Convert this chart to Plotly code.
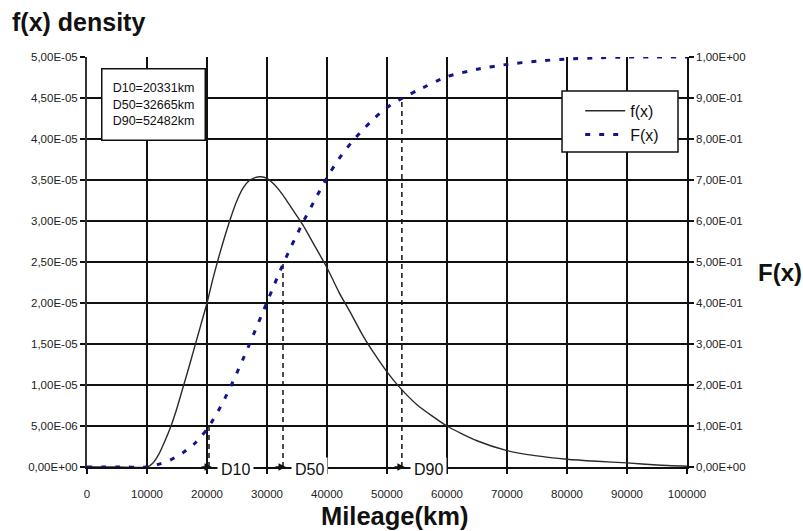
import plotly.graph_objects as go

# ---------------- data ----------------
mileage_km = [0, 5000, 10000, 11000, 12000, 13000, 14000, 15000, 16000, 17000, 18000,
              19000, 20000, 21000, 22000, 23000, 24000, 25000, 26000, 27000, 28000,
              29000, 30000, 31000, 32000, 33000, 34000, 35000, 36000, 38000, 40000,
              42000, 44000, 46000, 48000, 50000, 52000, 55000, 60000, 65000, 70000,
              75000, 80000, 85000, 90000, 95000, 100000]

density_f = [0, 0, 0, 0.05e-5, 0.16e-5, 0.32e-5, 0.50e-5, 0.72e-5, 0.97e-5, 1.22e-5, 1.48e-5,
             1.74e-5, 2.00e-5, 2.30e-5, 2.57e-5, 2.82e-5, 3.05e-5, 3.25e-5, 3.40e-5, 3.49e-5, 3.53e-5,
             3.54e-5, 3.52e-5, 3.46e-5, 3.38e-5, 3.28e-5, 3.17e-5, 3.06e-5, 2.95e-5, 2.69e-5, 2.43e-5,
             2.13e-5, 1.87e-5, 1.60e-5, 1.37e-5, 1.16e-5, 0.98e-5, 0.76e-5, 0.50e-5, 0.32e-5, 0.20e-5,
             0.135e-5, 0.095e-5, 0.07e-5, 0.05e-5, 0.025e-5, 0.01e-5]

cumulative_F = [0, 0, 0, 0.003, 0.007, 0.012, 0.018, 0.026, 0.035, 0.046, 0.058,
                0.074, 0.092, 0.115, 0.140, 0.168, 0.198, 0.230, 0.263, 0.297, 0.332,
                0.367, 0.402, 0.437, 0.472, 0.505, 0.537, 0.567, 0.597, 0.652, 0.706,
                0.752, 0.790, 0.823, 0.852, 0.877, 0.895, 0.918, 0.952, 0.970, 0.982,
                0.990, 0.995, 0.998, 1.0, 1.0, 1.0]

d_names = ["D10", "D50", "D90"]
d_values = [20331, 32665, 52482]
d_probs = [0.1, 0.5, 0.9]

x_ticks = [0, 10000, 20000, 30000, 40000, 50000, 60000, 70000, 80000, 90000, 100000]
x_ticklabels = [str(v) for v in x_ticks]
left_ticks = [0, 5e-6, 1e-5, 1.5e-5, 2e-5, 2.5e-5, 3e-5, 3.5e-5, 4e-5, 4.5e-5, 5e-5]
left_ticklabels = ["0,00E+00", "5,00E-06", "1,00E-05", "1,50E-05", "2,00E-05", "2,50E-05",
                   "3,00E-05", "3,50E-05", "4,00E-05", "4,50E-05", "5,00E-05"]
right_ticks = [0, 0.1, 0.2, 0.3, 0.4, 0.5, 0.6, 0.7, 0.8, 0.9, 1.0]
right_ticklabels = ["0,00E+00", "1,00E-01", "2,00E-01", "3,00E-01", "4,00E-01", "5,00E-01",
                    "6,00E-01", "7,00E-01", "8,00E-01", "9,00E-01", "1,00E+00"]

FONT = "Liberation Sans, Arial, sans-serif"
NAVY = "#14148a"
INK = "#111111"

W, H = 803, 531
L, T, R, B = 87, 57, 116, 64

fig = go.Figure()

# dashed D markers (vertical lines up to the F curve)
for name, d, p in zip(d_names, d_values, d_probs):
    fig.add_trace(go.Scatter(x=[d, d], y=[0, p], yaxis="y2", mode="lines",
                             line=dict(color=INK, width=1.5, dash="5px,4px"),
                             showlegend=False, hoverinfo="skip"))

fig.add_trace(go.Scatter(x=mileage_km, y=density_f, mode="lines", name="f(x)",
                         line=dict(color="#2a2a2a", width=1.4, shape="spline", smoothing=0.6)))
fig.add_trace(go.Scatter(x=mileage_km, y=cumulative_F, mode="lines", name="F(x)", yaxis="y2",
                         line=dict(color=NAVY, width=3, dash="5px,9px", shape="spline", smoothing=0.6)))

annotations = []
for name, d in zip(d_names, d_values):
    annotations.append(dict(x=d, y=0, xref="x", yref="y", text="", showarrow=True,
                            ax=-12, ay=0, axref="pixel", ayref="pixel",
                            arrowhead=2, arrowsize=1, arrowwidth=1.5, arrowcolor=INK,
                            xshift=3, standoff=0))
    annotations.append(dict(x=d, y=0, xref="x", yref="y", text=name, showarrow=False,
                            xanchor="left", yanchor="middle", xshift=8, yshift=-2,
                            bgcolor="white", borderpad=3,
                            font=dict(family=FONT, size=16, color=INK)))

# info box
annotations.append(dict(x=0.11, y=0.883, xref="paper", yref="paper",
                        text="D10=20331km<br>D50=32665km<br>D90=52482km",
                        showarrow=False, xanchor="center", yanchor="middle",
                        align="center", width=92, height=60, borderpad=5,
                        bgcolor="white", bordercolor=INK, borderwidth=1.5,
                        font=dict(family=FONT, size=12.5, color=INK)))

# right-axis title (horizontal)
annotations.append(dict(x=1.155, y=0.4756, xref="paper", yref="paper", text="F(x)",
                        showarrow=False, xanchor="center", yanchor="middle",
                        font=dict(family=FONT, size=24, color=INK, weight="bold")))

# x-axis title
annotations.append(dict(x=0.5133, y=-0.1195, xref="paper", yref="paper", text="Mileage(km)",
                        showarrow=False, xanchor="center", yanchor="middle",
                        font=dict(family=FONT, size=25.5, color=INK, weight="bold")))

# legend frame
shapes = [dict(type="rect", xref="paper", yref="paper", x0=0.7917, x1=0.985, y0=0.768, y1=0.917,
               fillcolor="white", line=dict(color=INK, width=1.5), layer="above")]

fig.update_layout(
    width=W, height=H,
    margin=dict(l=L, r=R, t=T, b=B, autoexpand=False),
    paper_bgcolor="white", plot_bgcolor="white",
    font=dict(family=FONT, color="#222222"),
    title=dict(text="f(x) density", x=12 / W, xanchor="left", y=1 - 22 / H, yanchor="middle",
               xref="container", yref="container",
               font=dict(family=FONT, size=25, color=INK, weight="bold")),
    xaxis=dict(range=[0, 100000], tickvals=x_ticks, ticktext=x_ticklabels,
               showgrid=True, gridcolor=INK, gridwidth=1.6,
               showline=True, linecolor=INK, linewidth=1.6,
               ticks="outside", ticklen=5, tickcolor=INK, tickwidth=1.5,
               tickfont=dict(family=FONT, size=11.5, color="#222222"),
               ticklabelstandoff=10, zeroline=False),
    yaxis=dict(range=[0, 5e-5], tickvals=left_ticks, ticktext=left_ticklabels,
               showgrid=True, gridcolor=INK, gridwidth=1.6,
               showline=True, linecolor="#333333", linewidth=2,
               ticks="outside", ticklen=5, tickcolor=INK, tickwidth=1.5,
               tickfont=dict(family=FONT, size=11.5, color="#222222"), zeroline=False),
    yaxis2=dict(range=[0, 1], tickvals=right_ticks, ticktext=right_ticklabels,
                overlaying="y", side="right", showgrid=False,
                showline=True, linecolor=INK, linewidth=1.6,
                ticks="outside", ticklen=5, tickcolor=INK, tickwidth=1.5,
                tickfont=dict(family=FONT, size=11.5, color="#222222"), zeroline=False),
    legend=dict(x=0.822, y=0.91, xanchor="left", yanchor="top",
                bgcolor="rgba(0,0,0,0)", borderwidth=0, itemwidth=40,
                font=dict(family=FONT, size=16, color=INK)),
    shapes=shapes,
    annotations=annotations,
    showlegend=True,
)

# remove the browser's default 8px page margin so the figure sits at the window origin
fig.write_html("out.html", config={"displayModeBar": False},
               post_script="document.body.style.margin='0px';")
